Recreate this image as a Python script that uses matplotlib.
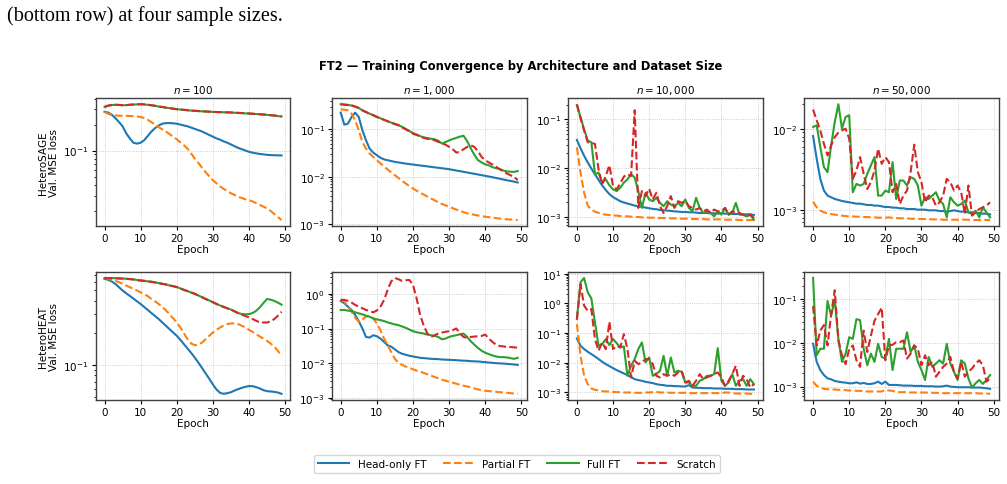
import numpy as np
import matplotlib
matplotlib.use("Agg")
import matplotlib.pyplot as plt

# validation MSE, stored as log10(loss), epochs 0..49
epochs = np.arange(50)
sizes = ["$n = 100$", "$n = 1,000$", "$n = 10,000$", "$n = 50,000$"]
archs = ["HeteroSAGE", "HeteroHEAT"]
methods = ["Head-only FT", "Partial FT", "Full FT", "Scratch"]

# ---- HeteroSAGE ----
sage_100_head = [-0.552, -0.560, -0.585, -0.625, -0.67, -0.72, -0.80, -0.86, -0.91, -0.92, -0.91, -0.88, -0.83, -0.78, -0.74, -0.71, -0.69, -0.683, -0.682, -0.685,
                 -0.69, -0.70, -0.71, -0.72, -0.735, -0.75, -0.765, -0.78, -0.80, -0.82, -0.84, -0.86, -0.875, -0.895, -0.91, -0.93, -0.95, -0.97, -0.985, -1.00,
                 -1.015, -1.025, -1.033, -1.04, -1.045, -1.05, -1.053, -1.055, -1.056, -1.057]
sage_100_partial = [-0.552, -0.575, -0.59, -0.595, -0.597, -0.598, -0.599, -0.600, -0.602, -0.605, -0.612, -0.625, -0.645, -0.672, -0.70, -0.73, -0.755, -0.78, -0.81, -0.84,
                    -0.87, -0.905, -0.94, -0.98, -1.035, -1.095, -1.145, -1.20, -1.25, -1.30, -1.345, -1.38, -1.415, -1.445, -1.47, -1.495, -1.515, -1.535, -1.55, -1.565,
                    -1.575, -1.59, -1.61, -1.63, -1.65, -1.67, -1.70, -1.735, -1.77, -1.805]
sage_100_full = [-0.497, -0.482, -0.474, -0.471, -0.473, -0.476, -0.475, -0.471, -0.468, -0.466, -0.465, -0.467, -0.471, -0.477, -0.483, -0.491, -0.497, -0.504, -0.510, -0.516,
                 -0.522, -0.526, -0.530, -0.534, -0.538, -0.541, -0.544, -0.546, -0.549, -0.551, -0.553, -0.555, -0.556, -0.558, -0.559, -0.560, -0.563, -0.565, -0.567, -0.570,
                 -0.572, -0.575, -0.578, -0.581, -0.584, -0.587, -0.592, -0.596, -0.601, -0.606]
sage_100_scratch = [-0.494, -0.480, -0.472, -0.470, -0.472, -0.475, -0.474, -0.470, -0.467, -0.465, -0.464, -0.466, -0.470, -0.476, -0.482, -0.490, -0.496, -0.503, -0.509, -0.515,
                    -0.521, -0.525, -0.529, -0.533, -0.537, -0.540, -0.543, -0.545, -0.548, -0.550, -0.552, -0.554, -0.555, -0.557, -0.558, -0.559, -0.562, -0.564, -0.566, -0.569,
                    -0.571, -0.574, -0.577, -0.580, -0.583, -0.586, -0.591, -0.595, -0.600, -0.605]

sage_1k_head = [-0.649, -0.902, -0.881, -0.74, -0.649, -0.74, -1.021, -1.232, -1.407, -1.491, -1.547, -1.60, -1.635, -1.653, -1.67, -1.688, -1.70, -1.712, -1.724, -1.735,
                -1.744, -1.754, -1.764, -1.773, -1.783, -1.793, -1.803, -1.813, -1.822, -1.832, -1.842, -1.856, -1.870, -1.884, -1.898, -1.912, -1.926, -1.940, -1.954, -1.968,
                -1.982, -1.997, -2.012, -2.028, -2.044, -2.06, -2.075, -2.09, -2.106, -2.123]
sage_1k_partial = [-0.579, -0.586, -0.60, -0.67, -0.81, -1.021, -1.267, -1.407, -1.512, -1.582, -1.653, -1.72, -1.785, -1.85, -1.91, -1.968, -2.03, -2.09, -2.145, -2.20,
                   -2.249, -2.295, -2.34, -2.38, -2.42, -2.46, -2.50, -2.54, -2.575, -2.605, -2.635, -2.665, -2.695, -2.72, -2.75, -2.775, -2.79, -2.805, -2.82, -2.835,
                   -2.846, -2.855, -2.865, -2.875, -2.885, -2.893, -2.90, -2.905, -2.91, -2.916]
sage_1k_full = [-0.470, -0.476, -0.485, -0.497, -0.52, -0.55, -0.598, -0.635, -0.67, -0.70, -0.735, -0.768, -0.80, -0.83, -0.86, -0.885, -0.91, -0.95, -0.99, -1.035,
                -1.08, -1.11, -1.145, -1.17, -1.185, -1.20, -1.21, -1.24, -1.30, -1.27, -1.235, -1.205, -1.18, -1.155, -1.135, -1.25, -1.40, -1.54, -1.65, -1.70,
                -1.74, -1.76, -1.80, -1.82, -1.84, -1.87, -1.89, -1.895, -1.90, -1.88]
sage_1k_scratch = [-0.474, -0.480, -0.487, -0.495, -0.52, -0.55, -0.60, -0.635, -0.67, -0.705, -0.740, -0.77, -0.80, -0.832, -0.86, -0.89, -0.916, -0.96, -1.00, -1.045,
                   -1.091, -1.12, -1.15, -1.182, -1.20, -1.215, -1.232, -1.265, -1.302, -1.323, -1.37, -1.421, -1.491, -1.477, -1.421, -1.372, -1.337, -1.372, -1.463, -1.582,
                   -1.653, -1.70, -1.744, -1.79, -1.842, -1.89, -1.933, -1.97, -2.004, -2.074]

sage_10k_head = [-1.421, -1.593, -1.745, -1.883, -2.007, -2.124, -2.241, -2.352, -2.448, -2.531, -2.593, -2.634, -2.676, -2.703, -2.724, -2.745, -2.766, -2.779, -2.793, -2.807,
                 -2.821, -2.834, -2.841, -2.855, -2.862, -2.869, -2.876, -2.883, -2.890, -2.897, -2.897, -2.903, -2.903, -2.910, -2.917, -2.917, -2.917, -2.924, -2.924, -2.931,
                 -2.924, -2.931, -2.931, -2.938, -2.938, -2.938, -2.945, -2.945, -2.945, -2.959]
sage_10k_partial = [-1.572, -2.090, -2.503, -2.766, -2.848, -2.890, -2.917, -2.938, -2.952, -2.959, -2.966, -2.972, -2.979, -2.986, -2.986, -2.993, -3.0, -3.0, -3.007, -3.007,
                    -3.014, -3.014, -3.014, -3.021, -3.021, -3.021, -3.028, -3.028, -3.028, -3.034, -3.034, -3.034, -3.041, -3.041, -3.041, -3.041, -3.048, -3.048, -3.048, -3.048,
                    -3.048, -3.055, -3.055, -3.055, -3.055, -3.062, -3.062, -3.062, -3.062, -3.062]
sage_10k_full = [-0.710, -0.952, -1.207, -1.434, -1.469, -2.124, -2.090, -2.297, -2.228, -2.352, -2.434, -2.469, -2.400, -2.297, -2.228, -2.124, -2.193, -2.469, -2.814, -2.503,
                 -2.641, -2.676, -2.607, -2.710, -2.779, -2.676, -2.745, -2.779, -2.710, -2.779, -2.641, -2.814, -2.883, -2.607, -2.814, -2.917, -2.883, -2.917, -2.986, -2.883,
                 -2.952, -2.814, -2.952, -2.917, -2.710, -2.952, -2.952, -2.986, -2.952, -3.055]
sage_10k_scratch = [-0.690, -0.972, -1.228, -1.469, -1.483, -1.503, -2.021, -2.331, -2.159, -1.938, -2.366, -2.434, -2.310, -2.172, -2.124, -2.159, -0.814, -2.814, -2.469, -2.572,
                    -2.421, -2.641, -2.503, -2.779, -2.917, -2.779, -2.572, -2.814, -2.676, -2.710, -2.676, -2.779, -2.814, -2.848, -2.814, -2.883, -2.848, -2.917, -2.848, -2.883,
                    -2.883, -2.814, -2.952, -2.883, -2.917, -2.917, -2.952, -2.986, -2.952, -3.021]

sage_50k_head = [-2.091, -2.372, -2.620, -2.764, -2.826, -2.847, -2.868, -2.880, -2.893, -2.901, -2.909, -2.917, -2.926, -2.926, -2.934, -2.942, -2.942, -2.950, -2.950, -2.959,
                 -2.967, -2.967, -2.975, -2.975, -2.983, -2.983, -2.992, -2.992, -2.992, -3.0, -3.0, -3.0, -3.008, -3.008, -3.008, -3.017, -3.017, -3.025, -3.017, -3.008,
                 -3.017, -3.025, -3.025, -3.033, -3.033, -3.041, -3.041, -3.050, -3.050, -3.058]
sage_50k_partial = [-2.901, -2.971, -3.012, -3.033, -3.045, -3.054, -3.062, -3.066, -3.074, -3.079, -3.083, -3.083, -3.087, -3.087, -3.091, -3.091, -3.095, -3.095, -3.099, -3.099,
                    -3.099, -3.095, -3.103, -3.103, -3.107, -3.107, -3.107, -3.112, -3.112, -3.112, -3.116, -3.116, -3.116, -3.120, -3.120, -3.120, -3.124, -3.124, -3.124, -3.124,
                    -3.124, -3.120, -3.124, -3.124, -3.128, -3.128, -3.128, -3.128, -3.128, -3.128]
sage_50k_full = [-1.979, -1.959, -2.227, -2.475, -2.537, -2.207, -1.917, -1.698, -2.0, -1.855, -1.835, -2.785, -2.682, -2.702, -2.682, -2.558, -2.455, -2.351, -2.826, -2.826,
                 -2.764, -2.785, -2.413, -2.868, -2.640, -2.640, -2.702, -2.599, -2.620, -2.702, -2.950, -2.847, -2.868, -2.826, -2.785, -2.888, -2.930, -3.095, -2.847, -2.909,
                 -2.950, -2.930, -2.888, -3.033, -3.054, -3.012, -3.095, -2.971, -3.033, -3.095]
sage_50k_scratch = [-1.764, -1.897, -2.021, -2.186, -2.331, -2.207, -2.103, -2.050, -2.021, -2.0, -2.124, -2.620, -2.517, -2.351, -2.558, -2.744, -2.661, -2.517, -2.248, -2.434,
                    -2.351, -2.413, -2.785, -2.682, -2.930, -2.826, -2.764, -2.537, -2.198, -2.537, -2.661, -2.909, -2.826, -2.847, -2.950, -2.909, -2.826, -2.620, -2.661, -2.764,
                    -2.702, -2.785, -3.054, -2.702, -3.074, -3.033, -2.992, -2.971, -2.950, -2.909]

# ---- HeteroHEAT ----
heat_100_head = [-0.192, -0.201, -0.217, -0.239, -0.270, -0.302, -0.327, -0.352, -0.377, -0.403, -0.428, -0.456, -0.484, -0.513, -0.541, -0.569, -0.601, -0.632, -0.664, -0.695,
                 -0.726, -0.764, -0.805, -0.846, -0.887, -0.931, -0.978, -1.028, -1.079, -1.129, -1.182, -1.230, -1.261, -1.270, -1.264, -1.255, -1.239, -1.226, -1.214, -1.204,
                 -1.198, -1.198, -1.208, -1.220, -1.236, -1.245, -1.248, -1.252, -1.258, -1.270]
heat_100_partial = [-0.186, -0.192, -0.201, -0.211, -0.223, -0.239, -0.255, -0.270, -0.286, -0.302, -0.318, -0.336, -0.355, -0.381, -0.403, -0.428, -0.456, -0.487, -0.525, -0.563,
                    -0.601, -0.648, -0.704, -0.758, -0.799, -0.814, -0.808, -0.789, -0.758, -0.726, -0.695, -0.670, -0.648, -0.629, -0.616, -0.610, -0.610, -0.616, -0.632, -0.648,
                    -0.670, -0.689, -0.711, -0.733, -0.752, -0.774, -0.799, -0.827, -0.868, -0.915]
heat_100_full = [-0.184, -0.184, -0.185, -0.186, -0.188, -0.189, -0.191, -0.194, -0.197, -0.203, -0.207, -0.210, -0.216, -0.219, -0.225, -0.232, -0.238, -0.244, -0.254, -0.260,
                 -0.269, -0.282, -0.295, -0.307, -0.320, -0.332, -0.348, -0.364, -0.380, -0.395, -0.411, -0.427, -0.442, -0.455, -0.468, -0.480, -0.496, -0.513, -0.522, -0.525,
                 -0.522, -0.513, -0.491, -0.459, -0.418, -0.381, -0.387, -0.399, -0.415, -0.434]
heat_100_scratch = [-0.186, -0.186, -0.186, -0.186, -0.189, -0.189, -0.192, -0.195, -0.198, -0.204, -0.208, -0.211, -0.217, -0.220, -0.226, -0.233, -0.239, -0.245, -0.255, -0.261,
                    -0.270, -0.283, -0.296, -0.308, -0.321, -0.333, -0.349, -0.365, -0.381, -0.396, -0.412, -0.428, -0.443, -0.456, -0.469, -0.481, -0.497, -0.513, -0.528, -0.541,
                    -0.553, -0.569, -0.585, -0.601, -0.601, -0.601, -0.591, -0.569, -0.538, -0.500]

heat_1k_head = [-0.204, -0.272, -0.369, -0.466, -0.612, -0.786, -1.0, -1.243, -1.262, -1.194, -1.223, -1.291, -1.388, -1.485, -1.524, -1.602, -1.680, -1.728, -1.757, -1.786,
                -1.806, -1.825, -1.845, -1.854, -1.864, -1.874, -1.878, -1.883, -1.893, -1.898, -1.903, -1.908, -1.913, -1.922, -1.927, -1.932, -1.942, -1.946, -1.951, -1.961,
                -1.971, -1.981, -1.990, -2.0, -2.005, -2.010, -2.019, -2.029, -2.039, -2.049]
heat_1k_partial = [-0.175, -0.223, -0.369, -0.515, -0.689, -0.806, -0.738, -0.660, -0.631, -0.709, -0.854, -1.049, -1.291, -1.485, -1.680, -1.874, -1.990, -2.049, -2.097, -2.136,
                   -2.175, -2.214, -2.243, -2.282, -2.320, -2.359, -2.398, -2.437, -2.476, -2.505, -2.534, -2.563, -2.592, -2.621, -2.650, -2.670, -2.699, -2.728, -2.757, -2.777,
                   -2.796, -2.806, -2.816, -2.825, -2.835, -2.845, -2.854, -2.864, -2.874, -2.883]
heat_1k_full = [-0.466, -0.466, -0.485, -0.495, -0.534, -0.563, -0.592, -0.631, -0.660, -0.709, -0.738, -0.757, -0.786, -0.825, -0.854, -0.883, -0.903, -0.942, -0.981, -1.029,
                -1.078, -1.107, -1.126, -1.146, -1.175, -1.194, -1.214, -1.243, -1.311, -1.291, -1.243, -1.214, -1.194, -1.165, -1.146, -1.243, -1.369, -1.466, -1.563, -1.641,
                -1.699, -1.738, -1.777, -1.806, -1.825, -1.825, -1.835, -1.854, -1.874, -1.845]
heat_1k_scratch = [-0.175, -0.175, -0.204, -0.252, -0.320, -0.369, -0.417, -0.466, -0.495, -0.534, -0.48, -0.37, -0.18, 0.12, 0.36, 0.456, 0.42, 0.37, 0.39, 0.40,
                   0.26, -0.126, -0.612, -0.922, -1.146, -1.243, -1.194, -1.146, -1.117, -1.097, -1.078, -1.049, -1.0, -1.146, -1.243, -1.272, -1.243, -1.233, -1.223, -1.214,
                   -1.175, -1.291, -1.388, -1.466, -1.505, -1.515, -1.534, -1.534, -1.543, -1.553]

heat_10k_head = [-1.180, -1.427, -1.539, -1.629, -1.708, -1.787, -1.876, -1.966, -2.045, -2.112, -2.180, -2.247, -2.303, -2.360, -2.416, -2.483, -2.551, -2.584, -2.607, -2.640,
                 -2.663, -2.685, -2.719, -2.742, -2.753, -2.775, -2.775, -2.787, -2.787, -2.798, -2.798, -2.753, -2.831, -2.843, -2.843, -2.854, -2.854, -2.854, -2.865, -2.865,
                 -2.865, -2.876, -2.876, -2.876, -2.888, -2.888, -2.888, -2.899, -2.899, -2.899]
heat_10k_partial = [-0.697, -1.764, -2.438, -2.719, -2.865, -2.910, -2.933, -2.955, -2.966, -2.966, -2.978, -2.989, -2.989, -3.0, -3.0, -3.0, -3.011, -3.011, -3.011, -3.0,
                    -3.0, -2.989, -2.978, -3.0, -3.0, -3.0, -3.011, -3.011, -3.011, -3.011, -3.011, -3.022, -3.022, -3.022, -3.022, -3.022, -3.022, -3.022, -3.022, -3.022,
                    -3.022, -3.0, -3.0, -3.022, -3.034, -3.034, -3.034, -3.034, -3.045, -3.045]
heat_10k_full = [-0.528, 0.708, 0.854, 0.371, 0.169, -0.640, -1.427, -1.371, -1.202, -1.404, -1.202, -1.337, -1.483, -1.449, -2.438, -2.101, -1.876, -1.539, -1.315, -1.989,
                 -1.820, -2.438, -2.382, -2.270, -1.764, -2.438, -1.820, -2.326, -2.270, -2.303, -2.663, -2.663, -2.775, -2.775, -2.607, -2.551, -2.438, -2.438, -2.382, -1.506,
                 -2.607, -2.775, -2.663, -2.382, -2.775, -2.607, -2.551, -2.775, -2.551, -2.719]
heat_10k_scratch = [-0.528, 0.652, -0.079, -0.247, -0.191, -1.202, -1.596, -1.315, -1.539, -0.618, -1.539, -1.427, -1.483, -1.034, -1.539, -2.494, -1.933, -2.045, -1.989, -1.876,
                    -1.876, -2.045, -2.438, -2.494, -2.382, -2.438, -2.382, -2.438, -2.326, -2.270, -2.663, -2.607, -2.775, -2.607, -2.382, -2.551, -2.494, -2.438, -2.382, -2.326,
                    -2.494, -2.775, -2.607, -2.382, -2.101, -2.775, -2.438, -2.551, -2.831, -2.719]

heat_50k_head = [-2.026, -2.438, -2.625, -2.738, -2.813, -2.835, -2.873, -2.888, -2.903, -2.910, -2.925, -2.925, -2.903, -2.933, -2.918, -2.940, -2.940, -2.925, -2.888, -2.940,
                 -2.888, -2.963, -2.963, -2.963, -2.970, -2.978, -2.978, -2.978, -2.985, -2.985, -2.985, -2.993, -2.993, -2.993, -3.0, -3.0, -2.993, -2.978, -3.0, -3.007,
                 -3.015, -3.015, -3.015, -3.015, -3.022, -3.022, -3.022, -3.030, -3.037, -3.052]
heat_50k_partial = [-2.888, -2.985, -3.022, -3.052, -3.060, -3.060, -3.067, -3.075, -3.075, -3.082, -3.090, -3.090, -3.097, -3.097, -3.105, -3.112, -3.112, -3.112, -3.112, -3.112,
                    -3.075, -3.090, -3.097, -3.127, -3.127, -3.127, -3.127, -3.135, -3.135, -3.135, -3.135, -3.135, -3.142, -3.142, -3.142, -3.150, -3.150, -3.150, -3.150, -3.150,
                    -3.150, -3.150, -3.150, -3.150, -3.150, -3.150, -3.157, -3.157, -3.157, -3.165]
heat_50k_full = [-0.528, -2.288, -2.139, -2.139, -1.052, -1.390, -1.015, -1.914, -2.438, -2.251, -1.876, -1.914, -1.464, -1.487, -2.139, -2.513, -2.251, -2.438, -2.026, -2.326,
                 -2.363, -1.914, -2.625, -2.139, -2.139, -2.139, -1.764, -2.213, -2.064, -2.438, -2.625, -2.850, -2.326, -2.551, -2.476, -2.401, -2.476, -2.026, -2.476, -2.663,
                 -2.850, -2.401, -2.476, -2.813, -3.022, -2.925, -2.850, -2.940, -2.850, -2.738]
heat_50k_scratch = [-1.165, -2.064, -1.727, -1.599, -2.064, -1.352, -0.805, -1.951, -2.288, -2.491, -2.139, -2.064, -2.401, -2.551, -1.727, -2.213, -1.839, -1.502, -1.352, -1.202,
                    -2.401, -2.064, -2.049, -1.989, -1.989, -1.951, -2.363, -2.251, -2.064, -2.139, -2.513, -2.288, -2.513, -2.438, -2.775, -2.663, -2.551, -2.476, -2.326, -2.663,
                    -2.813, -2.438, -2.775, -2.663, -2.588, -2.476, -2.401, -2.513, -2.888, -2.813]

panels = [
    [(sage_100_head, sage_100_partial, sage_100_full, sage_100_scratch),
     (sage_1k_head, sage_1k_partial, sage_1k_full, sage_1k_scratch),
     (sage_10k_head, sage_10k_partial, sage_10k_full, sage_10k_scratch),
     (sage_50k_head, sage_50k_partial, sage_50k_full, sage_50k_scratch)],
    [(heat_100_head, heat_100_partial, heat_100_full, heat_100_scratch),
     (heat_1k_head, heat_1k_partial, heat_1k_full, heat_1k_scratch),
     (heat_10k_head, heat_10k_partial, heat_10k_full, heat_10k_scratch),
     (heat_50k_head, heat_50k_partial, heat_50k_full, heat_50k_scratch)],
]

colors = ["#1f77b4", "#ff7f0e", "#2ca02c", "#d62728"]
styles = ["-", "--", "-", "--"]

fig, axes = plt.subplots(2, 4, figsize=(10.07, 4.85), dpi=100)
fig.subplots_adjust(left=0.095, right=0.992, top=0.795, bottom=0.174, wspace=0.213, hspace=0.364)

for r in range(2):
    for c in range(4):
        ax = axes[r, c]
        for k in range(4):
            ax.plot(epochs, 10 ** np.array(panels[r][c][k]), color=colors[k],
                    linestyle=styles[k], linewidth=1.5, label=methods[k])
        ax.set_yscale("log")
        ax.set_xticks([0, 10, 20, 30, 40, 50])
        ax.grid(True, which="major", linestyle=":", linewidth=0.6, color="0.75")
        ax.tick_params(labelsize=7.5, length=3, pad=2)
        ax.tick_params(which="minor", length=1.8)
        ax.set_xlabel("Epoch", fontsize=7.5, labelpad=1)
        for s in ax.spines.values():
            s.set_color("0.25")
            s.set_linewidth(1.0)
        if r == 0:
            ax.set_title(sizes[c], fontsize=7.5, pad=4)
        if c == 0:
            ax.set_ylabel(archs[r] + "\nVal. MSE loss", fontsize=7.5, labelpad=3)

fig.text(0.007, 1 - 21 / 485, "(bottom row) at four sample sizes.",
         family="Liberation Serif", fontsize=14.5, va="baseline", ha="left")
fig.text(0.517, 0.862, "FT2 \u2014 Training Convergence by Architecture and Dataset Size",
         ha="center", va="center", fontsize=8.3, fontweight="bold")

handles, labels = axes[0, 0].get_legend_handles_labels()
fig.legend(handles, labels, loc="center", bbox_to_anchor=(517 / 1007, 1 - 465 / 485),
           ncol=4, fontsize=7.5, frameon=True, handlelength=3, columnspacing=1.6)

fig.savefig("out.png", dpi=100)
